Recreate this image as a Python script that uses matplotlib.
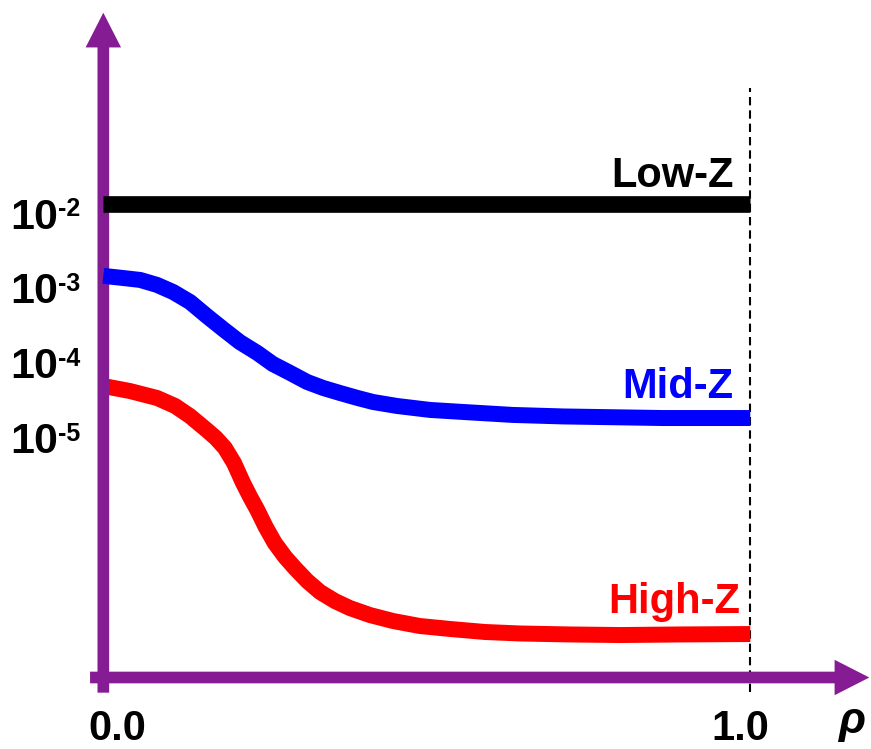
import matplotlib
matplotlib.use("Agg")
import matplotlib.pyplot as plt

# data (rho, concentration)
rho_low = [0.0, 1.0]
low_z = [1.31e-2, 1.31e-2]

rho_mid = [0.000, 0.030, 0.057, 0.083, 0.108, 0.134, 0.160, 0.185, 0.211,
           0.238, 0.262, 0.289, 0.315, 0.340, 0.366, 0.393, 0.417, 0.454,
           0.505, 0.556, 0.633, 0.711, 0.865, 1.000]
mid_z = [1.44e-3, 1.35e-3, 1.27e-3, 1.09e-3, 8.75e-4, 6.44e-4, 4.18e-4,
         2.80e-4, 1.87e-4, 1.34e-4, 9.52e-5, 7.21e-5, 5.47e-5, 4.54e-5,
         3.89e-5, 3.34e-5, 2.95e-5, 2.61e-5, 2.31e-5, 2.17e-5, 1.98e-5,
         1.89e-5, 1.80e-5, 1.80e-5]

rho_high = [0.000, 0.041, 0.083, 0.111, 0.134, 0.160, 0.174, 0.188, 0.202,
            0.216, 0.227, 0.238, 0.251, 0.265, 0.281, 0.296, 0.315, 0.335,
            0.358, 0.381, 0.412, 0.448, 0.489, 0.536, 0.590, 0.644, 0.721,
            0.799, 0.891, 1.000]
high_z = [4.83e-5, 4.14e-5, 3.34e-5, 2.61e-5, 1.91e-5, 1.24e-5, 9.72e-6,
          7.14e-6, 4.50e-6, 2.43e-6, 1.58e-6, 1.06e-6, 6.26e-7, 3.82e-7,
          2.48e-7, 1.77e-7, 1.19e-7, 8.44e-8, 6.39e-8, 5.15e-8, 4.15e-8,
          3.45e-8, 2.96e-8, 2.70e-8, 2.46e-8, 2.35e-8, 2.28e-8, 2.24e-8,
          2.28e-8, 2.31e-8]

tick_values = [1e-2, 1e-3, 1e-4, 1e-5]
tick_exponents = ["-2", "-3", "-4", "-5"]

purple = "#861C93"

plt.rcParams["font.family"] = ["Liberation Sans", "DejaVu Sans"]
plt.rcParams["font.weight"] = "bold"

fig = plt.figure(figsize=(8.71, 7.49), dpi=100)
ax = fig.add_axes([0, 0, 1, 1])
ax.set_yscale("log")
ax.set_xlim(-0.1597, 1.1866)
ax.set_ylim(10 ** -9.1754, 10 ** 0.8514)
ax.axis("off")

# axes drawn as arrows
arrow = dict(arrowstyle="simple,head_length=25,head_width=25.5,tail_width=8.4",
             mutation_scale=1, color=purple, lw=0, shrinkA=0, shrinkB=0)
ax.annotate("", xy=(0, 4.8), xytext=(0, 3.79e-9), arrowprops=arrow, zorder=2)
ax.annotate("", xy=(1.184, 6.05e-9), xytext=(-0.0205, 6.05e-9), arrowprops=arrow, zorder=2)

# boundary rho = 1
ax.plot([1.0, 1.0], [3.87e-9, 0.471], color="black", lw=1.5,
        linestyle=(0, (4, 2.4)), zorder=1)

ax.plot(rho_high, high_z, color="#FF0000", lw=11.5, solid_capstyle="butt",
        solid_joinstyle="round", zorder=1.5)
ax.plot(rho_mid, mid_z, color="#0000FF", lw=11.5, solid_capstyle="butt",
        solid_joinstyle="round", zorder=3)
ax.plot(rho_low, low_z, color="black", lw=12, solid_capstyle="butt", zorder=3)

ax.text(0.974, 2.23e-2, "Low-Z", color="black", fontsize=30, ha="right", va="baseline")
ax.text(0.974, 3.34e-5, "Mid-Z", color="#0000FF", fontsize=30, ha="right", va="baseline")
ax.text(0.985, 4.41e-8, "High-Z", color="#FF0000", fontsize=30, ha="right", va="baseline")

# y tick labels as powers of ten
for v, e in zip(tick_values, tick_exponents):
    ax.annotate("10", xy=(-0.1442, v), xytext=(0, -11.2), textcoords="offset points",
                fontsize=31, ha="left", va="baseline")
    ax.annotate(e, xy=(-0.1442, v), xytext=(34.5, -2.5), textcoords="offset points",
                fontsize=18, ha="left", va="baseline")

ax.text(0.0224, 8.81e-10, "0.0", fontsize=30, ha="center", va="baseline")
ax.text(0.984, 8.81e-10, "1.0", fontsize=30, ha="center", va="baseline")
ax.text(1.157, 1.1e-9, "ρ", fontsize=32, style="italic", ha="center", va="baseline")

fig.savefig("out.png", dpi=100)
